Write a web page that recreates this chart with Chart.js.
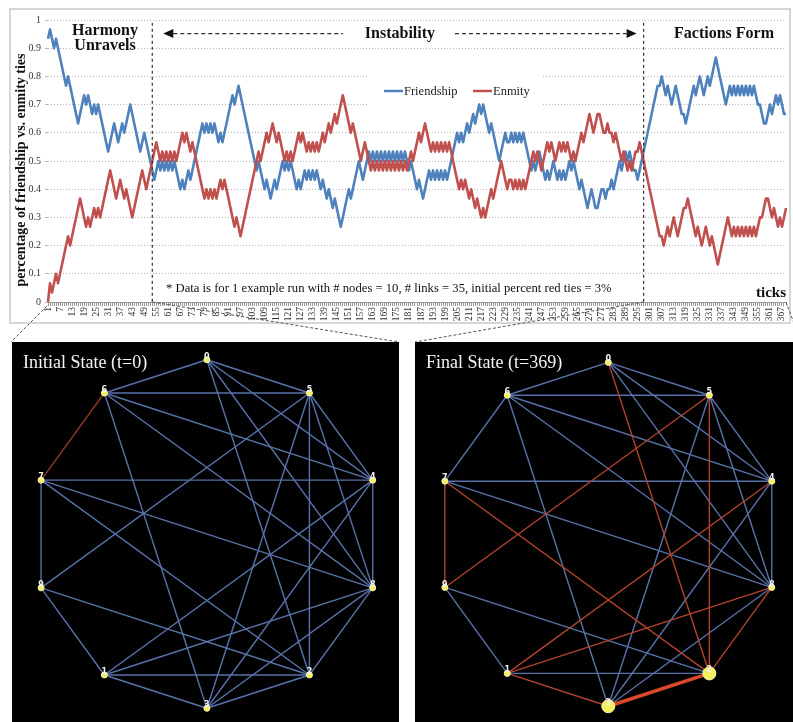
<!DOCTYPE html>
<html>
<head>
<meta charset="utf-8">
<title>Friendship vs. enmity ties</title>
<script src="https://cdn.jsdelivr.net/npm/chart.js@4.4.0/dist/chart.umd.min.js"></script>
<style>
  body { margin: 0; background: #fff; }
  #page { position: relative; width: 793px; height: 722px; overflow: hidden; }
  canvas { position: absolute; }
  #timeline { left: 0; top: 0; }
  #initial { left: 12px; top: 342px; }
  #final { left: 415px; top: 342px; }
</style>
</head>
<body>
<div id="page">
  <canvas id="timeline" width="793" height="342"></canvas>
  <canvas id="initial" width="387" height="380"></canvas>
  <canvas id="final" width="378" height="380"></canvas>
</div>
<script>
'use strict';

// ---- time series: number of friendship / enmity ties (out of 30 drawn links) per tick
var LINKS = 30;
var TICK_COUNT = 369;
var PHASE_START = 53;   // tick where "Instability" begins
var PHASE_END = 298;    // tick where "Factions Form" begins

var friendship = [
  28,29,28,27,28,27,26,25,24,23, 24,23,22,21,20,19,20,21,22,21,
  22,21,20,21,20,21,20,19,18,17, 16,17,18,19,18,17,18,19,18,19,
  20,21,20,19,18,17,16,17,18,17, 16,15,14,13,14,15,14,15,14,15,
  14,15,14,15,14,13,12,13,12,13, 14,13,14,15,16,17,18,19,18,19,
  18,19,18,19,18,17,18,17,18,19, 20,21,22,21,22,23,22,21,20,19,
  18,17,16,15,14,15,14,13,12,13, 12,11,12,13,12,13,14,15,14,15,
  14,15,14,13,12,13,12,13,14,13, 14,13,14,13,14,13,12,13,12,11,
  12,11,10,11,10,9,8,9,10,11,    12,11,12,13,14,15,14,13,14,15,
  16,15,16,15,16,15,16,15,16,15, 16,15,16,15,16,15,16,15,16,15,
  14,15,14,13,12,13,12,11,12,13, 14,13,14,13,14,13,14,13,14,13,
  14,15,16,17,18,17,18,17,18,19, 18,19,20,19,20,21,20,21,20,19,
  18,19,18,17,16,15,16,17,18,17, 17,18,17,18,17,18,17,18,17,16,
  15,14,15,14,15,16,15,14,13,14, 13,14,15,14,13,14,13,14,13,14,
  15,14,15,14,13,12,13,12,11,10, 11,12,11,10,10,11,12,12,11,12,
  12,13,12,13,14,15,14,15,16,15, 16,15,14,14,13,14,15,16,17,18,
  19,20,21,22,23,23,24,23,22,23, 22,21,22,23,22,21,20,20,19,20,
  21,22,23,22,23,24,23,22,23,24, 23,24,25,26,25,24,23,22,21,22,
  23,22,23,22,23,22,23,22,23,22, 23,22,23,22,21,21,20,19,19,20,
  21,20,21,22,21,22,21,20,20
];

var enmity = [
  0,2,1,2,3,2,3,4,5,6,           7,6,7,8,9,10,11,10,9,8,
  9,8,9,10,9,10,9,10,11,12,      13,14,13,12,11,12,13,12,11,12,
  11,10,9,10,11,12,13,14,13,12,  13,14,15,16,17,16,15,16,15,16,
  15,16,15,16,15,16,17,18,17,18, 17,16,17,16,15,14,13,12,11,12,
  11,12,11,12,11,12,13,12,13,12, 11,10,9,8,9,8,7,8,9,10,
  11,12,13,14,15,16,15,16,17,18, 17,18,19,18,17,18,17,16,15,16,
  15,16,15,16,17,18,17,18,17,16, 17,16,17,16,17,16,17,18,17,18,
  19,18,19,20,19,20,21,22,21,20, 19,18,19,18,17,16,15,16,17,16,
  15,14,15,14,15,14,15,14,15,14, 15,14,15,14,15,14,15,14,15,14,
  15,16,15,16,17,18,17,18,19,18, 17,16,17,16,17,16,17,16,17,16,
  17,16,15,14,13,12,13,12,13,12, 11,12,11,10,11,10,9,10,9,10,
  11,12,11,12,13,14,15,14,13,12, 13,13,12,13,12,13,12,13,12,13,
  14,15,16,15,16,15,14,15,16,17, 16,17,16,15,16,17,16,17,16,17,
  16,15,16,15,16,17,18,17,18,19, 20,19,18,19,20,20,19,18,18,19,
  18,18,17,18,17,16,15,16,15,14, 15,14,15,16,16,17,16,15,14,13,
  12,11,10,9,8,7,7,6,7,8,        7,8,9,8,7,8,9,10,10,11,
  10,9,8,7,8,7,6,7,8,7,          6,7,6,5,4,5,6,7,8,9,
  8,7,8,7,8,7,8,7,8,7,           8,7,8,7,8,9,9,10,11,11,
  10,9,10,9,8,9,8,9,10
];

var tickLabels = [];
for (var t = 1; t <= TICK_COUNT; t++) tickLabels.push(String(t));

// ---- network: 10 nodes on a decagon, 30 links
var nodeLabels = ['0', '5', '4', '8', '2', '3', '1', '9', '7', '6'];
var nodeX = [0, 0.588, 0.951, 0.951, 0.588, 0, -0.588, -0.951, -0.951, -0.588];
var nodeY = [1, 0.809, 0.309, -0.309, -0.809, -1, -0.809, -0.309, 0.309, 0.809];

var edgeFrom = ['0','0','0','0','0','6','6','6','6','6','7','7','7','7','9','9','9','1','1','1',
                '1','3','3','3','3','5','5','5','4','8'];
var edgeTo   = ['6','5','4','8','2','5','7','4','8','3','4','9','8','2','5','2','1','4','8','2',
                '3','2','5','4','8','2','4','8','8','2'];
// f = friendship tie, e = enmity tie
var initialTies = ['f','f','f','f','f','f','e','f','f','f','f','f','f','f','f','f','f','f','f','f',
                   'f','f','f','f','f','f','f','f','f','f'];
var finalTies   = ['f','f','f','f','e','f','f','f','f','f','f','e','f','e','e','f','f','e','e','f',
                   'e','e','f','f','f','e','f','f','f','e'];

var serif = "'Liberation Serif', 'DejaVu Serif', serif";
var BLUE = '#4f81bd';
var RED = '#c0504d';

function dashed(c, x1, y1, x2, y2, dash) {
  c.save();
  c.setLineDash(dash);
  c.beginPath();
  c.moveTo(x1, y1);
  c.lineTo(x2, y2);
  c.stroke();
  c.restore();
}

function arrowHead(c, tipX, y, dir) {
  c.beginPath();
  c.moveTo(tipX, y);
  c.lineTo(tipX + dir * 10, y - 4.5);
  c.lineTo(tipX + dir * 10, y + 4.5);
  c.closePath();
  c.fill();
}

var timelineDecor = {
  id: 'timelineDecor',
  beforeDraw: function (chart) {
    var c = chart.ctx;
    c.save();
    c.fillStyle = '#fff';
    c.fillRect(0, 0, chart.width, chart.height);
    c.strokeStyle = '#d6d6d6';
    c.lineWidth = 2;
    c.strokeRect(10, 9, 780, 314);
    c.restore();
  },
  beforeDatasetsDraw: function (chart) {
    var c = chart.ctx;
    c.save();
    c.fillStyle = '#fff';
    c.fillRect(368, 68, 175, 42);
    c.restore();
  },
  afterDatasetsDraw: function (chart) {
    var c = chart.ctx;
    var xs = chart.scales.x, ys = chart.scales.y;
    var xa = xs.getPixelForValue(PHASE_START - 1);
    var xb = xs.getPixelForValue(PHASE_END - 1);
    var top = ys.getPixelForValue(0.99);
    var arrowY = ys.getPixelForValue(0.952);
    var mid = (xa + xb) / 2;

    c.save();
    c.strokeStyle = '#333';
    c.fillStyle = '#111';
    c.lineWidth = 1.2;
    dashed(c, xa, top, xa, ys.bottom, [3, 3]);
    dashed(c, xb, top, xb, ys.bottom, [3, 3]);

    // instability arrow
    c.lineWidth = 1.3;
    arrowHead(c, xa + 11, arrowY, 1);
    dashed(c, xa + 21, arrowY, mid - 55, arrowY, [4, 3]);
    dashed(c, mid + 57, arrowY, xb - 17, arrowY, [4, 3]);
    arrowHead(c, xb - 7, arrowY, -1);

    c.font = 'bold 16px ' + serif;
    c.textAlign = 'center';
    c.textBaseline = 'middle';
    c.fillText('Instability', mid + 2, arrowY);
    c.fillText('Harmony', 105, 31);
    c.fillText('Unravels', 105, 46);
    c.fillText('Factions Form', 724, arrowY);

    c.font = 'bold 15px ' + serif;
    c.textAlign = 'right';
    c.fillText('ticks', 786, 293);

    // note
    c.textAlign = 'left';
    var note = '* Data is for 1 example run with # nodes = 10, # links = 35, initial percent red ties = 3%';
    c.font = '12px ' + serif;
    var size = 12 * 446 / c.measureText(note).width;
    c.font = size.toFixed(2) + 'px ' + serif;
    c.fillText(note, 166, 289);

    // legend
    c.font = '12.5px ' + serif;
    c.lineWidth = 2.5;
    c.strokeStyle = BLUE;
    c.beginPath(); c.moveTo(384, 91); c.lineTo(403, 91); c.stroke();
    c.strokeStyle = RED;
    c.beginPath(); c.moveTo(473, 91); c.lineTo(492, 91); c.stroke();
    c.fillStyle = '#222';
    c.fillText('Friendship', 404, 92);
    c.fillText('Enmity', 493, 92);

    // y-axis title
    c.save();
    c.translate(21, 170);
    c.rotate(-Math.PI / 2);
    c.textAlign = 'center';
    c.font = 'bold 14px ' + serif;
    c.fillStyle = '#111';
    c.fillText('percentage of friendship vs. enmity ties', 0, 0);
    c.restore();

    // zoom connectors to the network panels
    c.strokeStyle = '#555';
    c.lineWidth = 1;
    dashed(c, xs.left - 1, ys.bottom + 4, 11, 342, [3, 2]);
    dashed(c, xa, ys.bottom, 399, 342, [3, 2]);
    dashed(c, xb, ys.bottom, 415, 342, [3, 2]);
    dashed(c, xs.right, ys.bottom, 801, 342, [3, 2]);
    c.restore();
  }
};

new Chart(document.getElementById('timeline').getContext('2d'), {
  type: 'line',
  data: {
    labels: tickLabels,
    datasets: [{
      label: 'Friendship',
      data: friendship.map(function (v) { return v / LINKS; }),
      borderColor: BLUE,
      borderWidth: 2.6,
      pointRadius: 0,
      borderJoinStyle: 'round',
      tension: 0,
      order: 1
    }, {
      label: 'Enmity',
      data: enmity.map(function (v) { return v / LINKS; }),
      borderColor: RED,
      borderWidth: 2.6,
      pointRadius: 0,
      borderJoinStyle: 'round',
      tension: 0,
      order: 0
    }]
  },
  options: {
    responsive: false,
    animation: false,
    devicePixelRatio: 1,
    layout: { padding: { left: 9, right: 7, top: 20, bottom: 18 } },
    plugins: { legend: { display: false }, tooltip: { enabled: false } },
    scales: {
      x: {
        grid: { drawOnChartArea: false, drawTicks: true, tickLength: 4, color: '#9a9a9a' },
        border: { display: true, color: '#9a9a9a', width: 1 },
        ticks: {
          autoSkip: false, minRotation: 90, maxRotation: 90, padding: 1,
          color: '#333', font: { family: serif, size: 9.5 },
          callback: function (value, index) { return index % 6 === 0 ? tickLabels[index] : ''; }
        },
        afterFit: function (s) { s.height = 22; s.paddingLeft = 0; s.paddingRight = 0; }
      },
      y: {
        min: 0, max: 1,
        grid: { color: '#b4b4b4', lineWidth: 1, tickLength: 3 },
        border: { display: false, dash: [1, 2] },
        ticks: {
          stepSize: 0.1, padding: 4, color: '#333', font: { family: serif, size: 10 },
          callback: function (v) { return String(Math.round(v * 10) / 10); }
        },
        afterFit: function (s) { s.width = 39; }
      }
    }
  },
  plugins: [timelineDecor]
});

// ---- network panels
function networkChart(canvasId, ties, title, bounds, enmityColor, bigNodes) {
  var datasets = [];
  for (var i = 0; i < edgeFrom.length; i++) {
    var a = nodeLabels.indexOf(edgeFrom[i]);
    var b = nodeLabels.indexOf(edgeTo[i]);
    var enemy = ties[i] === 'e';
    var heavy = enemy && bigNodes[edgeFrom[i]] && bigNodes[edgeTo[i]];
    datasets.push({
      data: [{ x: nodeX[a], y: nodeY[a] }, { x: nodeX[b], y: nodeY[b] }],
      showLine: true,
      borderColor: heavy ? '#d9482b' : (enemy ? enmityColor : '#5872aa'),
      borderWidth: heavy ? 3.5 : 1.4,
      pointRadius: 0,
      order: enemy ? 1 : 2
    });
  }
  datasets.push({
    data: nodeLabels.map(function (n, i) { return { x: nodeX[i], y: nodeY[i] }; }),
    pointRadius: nodeLabels.map(function (n) { return bigNodes[n] || 3; }),
    pointBackgroundColor: '#f4ef5c',
    pointBorderColor: '#fbf7a8',
    pointBorderWidth: 1,
    showLine: false,
    order: 0
  });

  var decor = {
    id: 'netDecor',
    beforeDraw: function (chart) {
      var c = chart.ctx;
      c.save();
      c.fillStyle = '#000';
      c.fillRect(0, 0, chart.width, chart.height);
      c.restore();
    },
    afterDatasetsDraw: function (chart) {
      var c = chart.ctx, xs = chart.scales.x, ys = chart.scales.y;
      c.save();
      c.fillStyle = '#f2f2f2';
      c.font = 'bold 8px DejaVu Sans, sans-serif';
      c.textAlign = 'center';
      c.textBaseline = 'middle';
      for (var i = 0; i < nodeLabels.length; i++) {
        c.fillText(nodeLabels[i], xs.getPixelForValue(nodeX[i]), ys.getPixelForValue(nodeY[i]) - 3);
      }
      c.font = '18px ' + serif;
      c.textAlign = 'left';
      c.textBaseline = 'alphabetic';
      c.fillStyle = '#f4f4f4';
      c.fillText(title, 11, 26);
      c.restore();
    }
  };

  return new Chart(document.getElementById(canvasId).getContext('2d'), {
    type: 'scatter',
    data: { datasets: datasets },
    options: {
      responsive: false,
      animation: false,
      devicePixelRatio: 1,
      layout: { padding: 0 },
      plugins: { legend: { display: false }, tooltip: { enabled: false } },
      scales: {
        x: { type: 'linear', min: bounds[0], max: bounds[1], display: false },
        y: { type: 'linear', min: bounds[2], max: bounds[3], display: false }
      }
    },
    plugins: [decor]
  });
}

networkChart('initial', initialTies, 'Initial State (t=0)', [-1.089, 1.073, -1.050, 1.073], '#8e3b22', {});
networkChart('final', finalTies, 'Final State (t=369)', [-1.081, 1.031, -1.048, 1.075], '#b3432d', { '2': 6.5, '3': 6.5 });
</script>
</body>
</html>
